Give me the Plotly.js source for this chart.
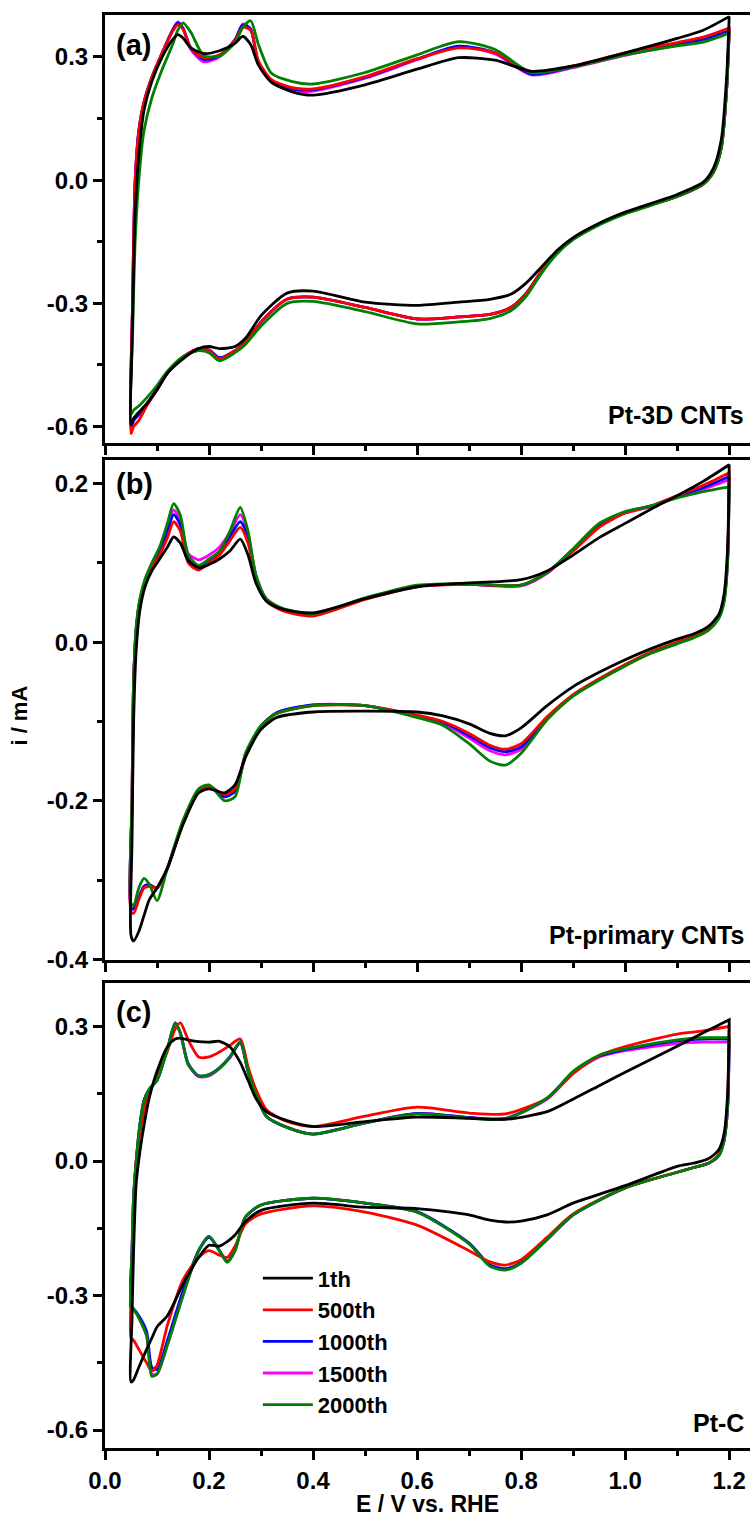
<!DOCTYPE html>
<html>
<head>
<meta charset="utf-8">
<script src="https://cdn.plot.ly/plotly-3.0.1.min.js"></script>
<style>html,body{margin:0;padding:0;background:#fff;}#chart{width:750px;height:1517px;}</style>
</head>
<body>
<div id="chart"></div>
<script>
// ---------------- DATA ----------------
var seriesNames = ["1th", "500th", "1000th", "1500th", "2000th"];
var seriesColors = ["#000000", "#ff0000", "#0000ff", "#ff00ff", "#008000"];
var panelLabels = ["(a)", "(b)", "(c)"];
var sampleNames = ["Pt-3D CNTs", "Pt-primary CNTs", "Pt-C"];
var xTickVals = [0, 0.2, 0.4, 0.6, 0.8, 1.0, 1.2];
var xTickText = ["0.0", "0.2", "0.4", "0.6", "0.8", "1.0", "1.2"];
var yTickValsA = [-0.6, -0.3, 0, 0.3];
var yTickTextA = ["-0.6", "-0.3", "0.0", "0.3"];
var yTickValsB = [-0.4, -0.2, 0, 0.2];
var yTickTextB = ["-0.4", "-0.2", "0.0", "0.2"];
var yTickValsC = [-0.6, -0.3, 0, 0.3];
var yTickTextC = ["-0.6", "-0.3", "0.0", "0.3"];

// Panel (a) Pt-3D CNTs : anodic (forward) and cathodic (reverse) sweeps
var xAnA = [0.05, 0.053, 0.058, 0.065, 0.075, 0.09, 0.11, 0.13, 0.14, 0.15, 0.165, 0.19, 0.22, 0.25, 0.265, 0.28, 0.295, 0.32, 0.36, 0.4, 0.5, 0.6, 0.68, 0.75, 0.82, 0.9, 1.0, 1.1, 1.15, 1.2];
var a1th_an    = [-0.595, -0.35, -0.08, 0.06, 0.17, 0.24, 0.30, 0.342, 0.354, 0.346, 0.322, 0.308, 0.315, 0.333, 0.35, 0.33, 0.28, 0.238, 0.215, 0.207, 0.232, 0.27, 0.298, 0.292, 0.265, 0.278, 0.31, 0.345, 0.365, 0.398];
var a500th_an  = [-0.617, -0.30, 0.0, 0.12, 0.19, 0.25, 0.31, 0.362, 0.378, 0.367, 0.322, 0.298, 0.305, 0.34, 0.372, 0.365, 0.29, 0.245, 0.225, 0.222, 0.252, 0.295, 0.322, 0.31, 0.262, 0.278, 0.31, 0.335, 0.348, 0.37];
var a1000th_an = [-0.60, -0.30, 0.0, 0.12, 0.19, 0.25, 0.31, 0.365, 0.383, 0.37, 0.322, 0.294, 0.302, 0.342, 0.378, 0.368, 0.285, 0.243, 0.222, 0.22, 0.25, 0.295, 0.326, 0.31, 0.258, 0.276, 0.307, 0.332, 0.343, 0.365];
var a1500th_an = [-0.60, -0.30, 0.0, 0.12, 0.19, 0.25, 0.31, 0.366, 0.385, 0.37, 0.318, 0.288, 0.30, 0.342, 0.38, 0.368, 0.283, 0.24, 0.218, 0.217, 0.248, 0.293, 0.325, 0.307, 0.256, 0.274, 0.304, 0.328, 0.338, 0.36];
var a2000th_an = [-0.57, -0.38, -0.15, 0.0, 0.12, 0.20, 0.27, 0.33, 0.365, 0.383, 0.36, 0.303, 0.302, 0.335, 0.372, 0.388, 0.33, 0.26, 0.24, 0.234, 0.262, 0.305, 0.337, 0.318, 0.262, 0.276, 0.305, 0.327, 0.336, 0.358];
var xCaA = [1.2, 1.195, 1.185, 1.17, 1.15, 1.1, 1.0, 0.95, 0.9, 0.87, 0.84, 0.81, 0.78, 0.74, 0.68, 0.6, 0.5, 0.4, 0.35, 0.3, 0.27, 0.25, 0.22, 0.2, 0.18, 0.15, 0.12, 0.1, 0.08, 0.065, 0.055, 0.05];
var a1th_ca    = [0.398, 0.25, 0.10, 0.03, -0.005, -0.035, -0.078, -0.105, -0.14, -0.17, -0.21, -0.25, -0.278, -0.29, -0.297, -0.305, -0.297, -0.27, -0.275, -0.33, -0.385, -0.405, -0.41, -0.405, -0.41, -0.435, -0.47, -0.51, -0.545, -0.565, -0.58, -0.595];
var a500th_ca  = [0.37, 0.22, 0.08, 0.02, -0.01, -0.04, -0.08, -0.107, -0.142, -0.175, -0.22, -0.275, -0.31, -0.327, -0.333, -0.338, -0.31, -0.285, -0.29, -0.345, -0.395, -0.415, -0.435, -0.415, -0.41, -0.43, -0.47, -0.51, -0.55, -0.585, -0.60, -0.617];
var a1000th_ca = [0.365, 0.22, 0.08, 0.02, -0.01, -0.04, -0.08, -0.107, -0.142, -0.175, -0.22, -0.275, -0.31, -0.327, -0.333, -0.338, -0.31, -0.285, -0.29, -0.345, -0.395, -0.415, -0.432, -0.413, -0.41, -0.43, -0.47, -0.51, -0.545, -0.57, -0.585, -0.60];
var a1500th_ca = [0.36, 0.22, 0.08, 0.02, -0.01, -0.04, -0.08, -0.107, -0.142, -0.175, -0.22, -0.275, -0.31, -0.327, -0.333, -0.338, -0.31, -0.285, -0.29, -0.345, -0.395, -0.415, -0.435, -0.415, -0.41, -0.43, -0.47, -0.51, -0.545, -0.57, -0.585, -0.60];
var a2000th_ca = [0.358, 0.22, 0.08, 0.02, -0.01, -0.04, -0.082, -0.109, -0.145, -0.178, -0.225, -0.282, -0.318, -0.337, -0.345, -0.35, -0.32, -0.295, -0.30, -0.355, -0.40, -0.42, -0.44, -0.42, -0.415, -0.43, -0.465, -0.50, -0.53, -0.55, -0.56, -0.57];

// Panel (b) Pt-primary CNTs
var xAnB = [0.05, 0.052, 0.055, 0.06, 0.067, 0.077, 0.09, 0.105, 0.12, 0.132, 0.145, 0.16, 0.18, 0.2, 0.22, 0.24, 0.26, 0.275, 0.29, 0.31, 0.34, 0.4, 0.5, 0.6, 0.7, 0.8, 0.85, 0.9, 0.95, 1.0, 1.05, 1.1, 1.15, 1.2];
var b1th_an    = [-0.37, -0.25, -0.10, -0.01, 0.04, 0.07, 0.09, 0.105, 0.12, 0.133, 0.125, 0.103, 0.094, 0.098, 0.105, 0.115, 0.13, 0.11, 0.075, 0.052, 0.042, 0.037, 0.055, 0.07, 0.075, 0.079, 0.09, 0.11, 0.132, 0.15, 0.168, 0.185, 0.203, 0.224];
var b500th_an  = [-0.34, -0.20, -0.05, 0.015, 0.05, 0.075, 0.095, 0.11, 0.132, 0.152, 0.14, 0.10, 0.091, 0.10, 0.11, 0.128, 0.145, 0.125, 0.08, 0.052, 0.04, 0.033, 0.054, 0.07, 0.073, 0.072, 0.088, 0.115, 0.145, 0.163, 0.172, 0.185, 0.198, 0.214];
var b1000th_an = [-0.336, -0.20, -0.05, 0.017, 0.052, 0.077, 0.097, 0.114, 0.14, 0.161, 0.148, 0.105, 0.096, 0.103, 0.113, 0.133, 0.152, 0.132, 0.083, 0.054, 0.041, 0.034, 0.055, 0.071, 0.073, 0.072, 0.088, 0.117, 0.147, 0.164, 0.172, 0.184, 0.195, 0.209];
var b1500th_an = [-0.336, -0.20, -0.05, 0.018, 0.053, 0.078, 0.098, 0.116, 0.144, 0.167, 0.153, 0.112, 0.104, 0.11, 0.12, 0.138, 0.161, 0.137, 0.085, 0.055, 0.042, 0.035, 0.055, 0.071, 0.073, 0.071, 0.087, 0.116, 0.146, 0.163, 0.171, 0.183, 0.193, 0.205];
var b2000th_an = [-0.33, -0.20, -0.05, 0.02, 0.055, 0.08, 0.10, 0.12, 0.15, 0.175, 0.16, 0.11, 0.097, 0.105, 0.115, 0.14, 0.17, 0.14, 0.085, 0.055, 0.043, 0.036, 0.056, 0.072, 0.074, 0.072, 0.088, 0.118, 0.15, 0.165, 0.172, 0.182, 0.19, 0.196];
var xCaB = [1.2, 1.197, 1.19, 1.18, 1.16, 1.13, 1.1, 1.05, 1.0, 0.95, 0.9, 0.85, 0.8, 0.77, 0.74, 0.7, 0.65, 0.6, 0.5, 0.4, 0.33, 0.3, 0.27, 0.25, 0.23, 0.2, 0.18, 0.15, 0.12, 0.1, 0.085, 0.075, 0.065, 0.055, 0.05];
var b1th_ca    = [0.224, 0.12, 0.06, 0.035, 0.02, 0.01, 0.004, -0.008, -0.022, -0.038, -0.056, -0.08, -0.108, -0.118, -0.115, -0.103, -0.093, -0.088, -0.087, -0.088, -0.095, -0.11, -0.145, -0.18, -0.19, -0.185, -0.19, -0.23, -0.285, -0.31, -0.325, -0.345, -0.365, -0.377, -0.37];
var b500th_ca  = [0.214, 0.11, 0.055, 0.032, 0.017, 0.007, 0.0, -0.012, -0.028, -0.046, -0.066, -0.094, -0.128, -0.135, -0.13, -0.115, -0.10, -0.092, -0.08, -0.08, -0.09, -0.107, -0.145, -0.185, -0.192, -0.183, -0.188, -0.228, -0.285, -0.31, -0.308, -0.31, -0.325, -0.342, -0.34];
var b1000th_ca = [0.209, 0.105, 0.053, 0.031, 0.016, 0.006, -0.001, -0.013, -0.029, -0.047, -0.067, -0.095, -0.132, -0.138, -0.133, -0.118, -0.101, -0.093, -0.08, -0.079, -0.089, -0.106, -0.143, -0.188, -0.195, -0.182, -0.187, -0.227, -0.285, -0.31, -0.306, -0.308, -0.322, -0.336, -0.336];
var b1500th_ca = [0.205, 0.105, 0.052, 0.031, 0.016, 0.006, -0.001, -0.013, -0.029, -0.047, -0.067, -0.096, -0.135, -0.142, -0.137, -0.121, -0.102, -0.094, -0.08, -0.079, -0.089, -0.106, -0.142, -0.186, -0.193, -0.181, -0.186, -0.226, -0.285, -0.31, -0.306, -0.308, -0.322, -0.336, -0.336];
var b2000th_ca = [0.196, 0.10, 0.05, 0.03, 0.015, 0.005, -0.002, -0.014, -0.03, -0.048, -0.068, -0.098, -0.14, -0.155, -0.15, -0.128, -0.105, -0.095, -0.08, -0.08, -0.09, -0.105, -0.14, -0.195, -0.20, -0.18, -0.185, -0.225, -0.285, -0.326, -0.305, -0.298, -0.31, -0.332, -0.33];

// Panel (c) Pt-C
var xAnC = [0.05, 0.052, 0.055, 0.06, 0.067, 0.075, 0.085, 0.1, 0.12, 0.135, 0.145, 0.16, 0.18, 0.2, 0.22, 0.24, 0.26, 0.275, 0.29, 0.31, 0.35, 0.4, 0.5, 0.6, 0.7, 0.77, 0.85, 0.9, 0.95, 1.0, 1.1, 1.15, 1.2];
var c1th_an    = [-0.493, -0.35, -0.20, -0.05, 0.02, 0.08, 0.14, 0.20, 0.255, 0.272, 0.274, 0.27, 0.266, 0.265, 0.267, 0.255, 0.22, 0.18, 0.14, 0.11, 0.09, 0.077, 0.088, 0.098, 0.095, 0.093, 0.11, 0.138, 0.168, 0.198, 0.256, 0.286, 0.315];
var c500th_an  = [-0.395, -0.25, -0.10, 0.0, 0.06, 0.11, 0.15, 0.19, 0.245, 0.295, 0.308, 0.27, 0.232, 0.232, 0.243, 0.258, 0.272, 0.21, 0.16, 0.115, 0.088, 0.077, 0.10, 0.12, 0.107, 0.105, 0.14, 0.195, 0.235, 0.255, 0.283, 0.29, 0.30];
var c1000th_an = [-0.326, -0.20, -0.08, 0.0, 0.08, 0.135, 0.16, 0.18, 0.25, 0.308, 0.286, 0.217, 0.19, 0.193, 0.208, 0.232, 0.264, 0.20, 0.15, 0.10, 0.075, 0.06, 0.085, 0.106, 0.097, 0.095, 0.14, 0.198, 0.234, 0.249, 0.268, 0.272, 0.272];
var c1500th_an = [-0.326, -0.20, -0.08, 0.0, 0.08, 0.135, 0.16, 0.18, 0.25, 0.306, 0.284, 0.215, 0.188, 0.19, 0.206, 0.23, 0.263, 0.20, 0.15, 0.10, 0.075, 0.06, 0.085, 0.106, 0.097, 0.095, 0.138, 0.196, 0.232, 0.246, 0.262, 0.265, 0.265];
var c2000th_an = [-0.326, -0.20, -0.08, 0.0, 0.08, 0.135, 0.16, 0.18, 0.25, 0.308, 0.285, 0.215, 0.19, 0.192, 0.207, 0.232, 0.266, 0.20, 0.15, 0.10, 0.075, 0.06, 0.085, 0.105, 0.096, 0.094, 0.14, 0.20, 0.236, 0.25, 0.27, 0.275, 0.275];
var xCaC = [1.2, 1.197, 1.19, 1.18, 1.16, 1.13, 1.1, 1.0, 0.9, 0.85, 0.8, 0.77, 0.74, 0.7, 0.6, 0.5, 0.4, 0.3, 0.27, 0.25, 0.235, 0.22, 0.2, 0.18, 0.15, 0.12, 0.1, 0.09, 0.08, 0.065, 0.055, 0.05];
var c1th_ca    = [0.315, 0.15, 0.06, 0.025, 0.005, -0.005, -0.012, -0.055, -0.094, -0.12, -0.134, -0.136, -0.132, -0.12, -0.106, -0.103, -0.094, -0.11, -0.135, -0.165, -0.18, -0.19, -0.188, -0.215, -0.275, -0.345, -0.37, -0.395, -0.42, -0.46, -0.488, -0.493];
var c500th_ca  = [0.30, 0.14, 0.05, 0.015, -0.005, -0.015, -0.025, -0.06, -0.118, -0.17, -0.22, -0.232, -0.225, -0.20, -0.143, -0.114, -0.10, -0.118, -0.14, -0.19, -0.215, -0.21, -0.20, -0.215, -0.265, -0.366, -0.455, -0.468, -0.45, -0.42, -0.40, -0.395];
var c1000th_ca = [0.272, 0.12, 0.045, 0.012, -0.005, -0.015, -0.025, -0.06, -0.12, -0.175, -0.226, -0.24, -0.232, -0.183, -0.113, -0.094, -0.083, -0.098, -0.125, -0.198, -0.224, -0.20, -0.17, -0.20, -0.29, -0.40, -0.465, -0.46, -0.38, -0.345, -0.33, -0.326];
var c1500th_ca = [0.265, 0.12, 0.045, 0.012, -0.005, -0.015, -0.025, -0.06, -0.12, -0.175, -0.227, -0.242, -0.234, -0.184, -0.114, -0.094, -0.083, -0.098, -0.125, -0.2, -0.225, -0.2, -0.168, -0.2, -0.3, -0.41, -0.475, -0.475, -0.39, -0.35, -0.33, -0.326];
var c2000th_ca = [0.275, 0.12, 0.045, 0.012, -0.005, -0.015, -0.025, -0.06, -0.12, -0.175, -0.228, -0.243, -0.235, -0.185, -0.114, -0.094, -0.083, -0.098, -0.125, -0.20, -0.226, -0.20, -0.168, -0.20, -0.30, -0.41, -0.475, -0.48, -0.39, -0.35, -0.33, -0.326];

// ---------------- BUILD ----------------
var panels = [
  {xa: "x", ya: "y", xAn: xAnA, xCa: xCaA, an: [a1th_an, a500th_an, a1000th_an, a1500th_an, a2000th_an], ca: [a1th_ca, a500th_ca, a1000th_ca, a1500th_ca, a2000th_ca]},
  {xa: "x2", ya: "y2", xAn: xAnB, xCa: xCaB, an: [b1th_an, b500th_an, b1000th_an, b1500th_an, b2000th_an], ca: [b1th_ca, b500th_ca, b1000th_ca, b1500th_ca, b2000th_ca]},
  {xa: "x3", ya: "y3", xAn: xAnC, xCa: xCaC, an: [c1th_an, c500th_an, c1000th_an, c1500th_an, c2000th_an], ca: [c1th_ca, c500th_ca, c1000th_ca, c1500th_ca, c2000th_ca]}
];
var drawOrder = [3, 2, 1, 4, 0];
var traces = [];
panels.forEach(function (p, pi) {
  drawOrder.forEach(function (s) {
    traces.push({
      type: "scatter", mode: "lines",
      x: p.xAn.concat(p.xCa), y: p.an[s].concat(p.ca[s]),
      xaxis: p.xa, yaxis: p.ya,
      name: seriesNames[s], legendgroup: seriesNames[s], legendrank: s + 1,
      showlegend: pi === 2,
      line: {color: seriesColors[s], width: 2.8, shape: "spline", smoothing: 0.7},
      hoverinfo: "skip"
    });
  });
});

var FONT = "Liberation Sans, Arial, Helvetica, sans-serif";
function xax(showLabels) {
  return {
    range: [0, 1.24], showgrid: false, zeroline: false,
    showline: true, linecolor: "#000", linewidth: 3, mirror: true,
    ticks: "outside", ticklen: 9, tickwidth: 3, tickcolor: "#000",
    tickmode: "array", tickvals: xTickVals, ticktext: xTickText,
    showticklabels: showLabels,
    minor: {tickvals: [0.1, 0.3, 0.5, 0.7, 0.9, 1.1], ticks: "outside", ticklen: 5, tickwidth: 3, tickcolor: "#000"},
    tickfont: {family: FONT, size: 24, color: "#000", weight: "bold"}
  };
}
function yax(range, dom, tv, tt, minorVals) {
  return {
    range: range, domain: dom, showgrid: false, zeroline: false,
    showline: true, linecolor: "#000", linewidth: 3, mirror: false,
    ticks: "outside", ticklen: 9, tickwidth: 3, tickcolor: "#000",
    tickmode: "array", tickvals: tv, ticktext: tt,
    minor: {tickvals: minorVals, ticks: "outside", ticklen: 5, tickwidth: 3, tickcolor: "#000"},
    tickfont: {family: FONT, size: 24, color: "#000", weight: "bold"}
  };
}

var xa3 = xax(true);
xa3.title = {text: "E / V vs. RHE", font: {family: FONT, size: 23, color: "#000", weight: "bold"}, standoff: 10};
var xa1 = xax(false); xa1.anchor = "y"; xa1.matches = "x3";
var xa2 = xax(false); xa2.anchor = "y2"; xa2.matches = "x3";
xa3.anchor = "y3";

var lblFont = {family: FONT, size: 29, color: "#000", weight: "bold"};
var smpFont = {family: FONT, size: 25, color: "#000", weight: "bold"};
var layout = {
  width: 750, height: 1517,
  margin: {l: 105, r: 0, t: 15, b: 69, pad: 0},
  paper_bgcolor: "#fff", plot_bgcolor: "#fff",
  showlegend: true,
  legend: {x: 0.237, y: 0.133, xanchor: "left", yanchor: "top", bgcolor: "rgba(0,0,0,0)",
           font: {family: FONT, size: 22, color: "#000", weight: "bold"}, itemwidth: 50, tracegroupgap: 0},
  xaxis: xa1, xaxis2: xa2, xaxis3: xa3,
  yaxis: yax([-0.64, 0.402], [0.7013, 1], yTickValsA, yTickTextA, [-0.45, -0.15, 0.15]),
  yaxis2: yax([-0.401, 0.23], [0.3405, 0.6895], yTickValsB, yTickTextB, [-0.3, -0.1, 0.1]),
  yaxis3: yax([-0.64, 0.397], [0, 0.3245], yTickValsC, yTickTextC, [-0.45, -0.15, 0.15]),
  annotations: [
    {text: panelLabels[0], xref: "paper", yref: "paper", x: 0.014, y: 0.979, xanchor: "left", yanchor: "middle", showarrow: false, font: lblFont},
    {text: panelLabels[1], xref: "paper", yref: "paper", x: 0.014, y: 0.673, xanchor: "left", yanchor: "middle", showarrow: false, font: lblFont},
    {text: panelLabels[2], xref: "paper", yref: "paper", x: 0.014, y: 0.304, xanchor: "left", yanchor: "middle", showarrow: false, font: lblFont},
    {text: sampleNames[0], xref: "paper", yref: "paper", x: 0.994, y: 0.721, xanchor: "right", yanchor: "middle", showarrow: false, font: smpFont},
    {text: sampleNames[1], xref: "paper", yref: "paper", x: 0.994, y: 0.358, xanchor: "right", yanchor: "middle", showarrow: false, font: smpFont},
    {text: sampleNames[2], xref: "paper", yref: "paper", x: 0.994, y: 0.0174, xanchor: "right", yanchor: "middle", showarrow: false, font: smpFont},
    {text: "i / mA", xref: "paper", yref: "paper", x: -0.132, y: 0.511, xanchor: "center", yanchor: "middle", textangle: -90, showarrow: false, font: {family: FONT, size: 22, color: "#000", weight: "bold"}}
  ]
};

Plotly.newPlot("chart", traces, layout, {staticPlot: true, displayModeBar: false});
</script>
</body>
</html>
